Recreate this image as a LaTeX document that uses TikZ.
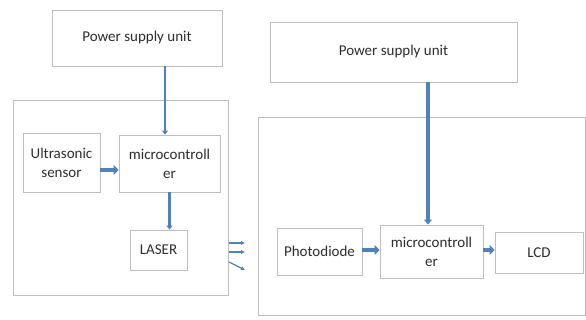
\documentclass[tikz,border=0pt]{standalone}
\usepackage{fontspec}
\setmainfont{Carlito}
\usetikzlibrary{arrows.meta}
\definecolor{edgegray}{RGB}{190,190,190}
\definecolor{flowblue}{RGB}{79,129,189}
\definecolor{inkgray}{RGB}{45,45,45}
\begin{document}
\begin{tikzpicture}[x=1pt,y=-1pt,
  box/.style={draw=edgegray,line width=0.9pt,fill=white,inner sep=0pt,align=center,
    text=inkgray,font=\fontsize{15}{19}\selectfont},
  frame/.style={draw=edgegray,line width=0.9pt,inner sep=0pt},
  feed/.style={draw=flowblue,line width=2.4pt,-{Triangle[length=4pt,width=6pt]}},
  feedthick/.style={draw=flowblue,line width=4pt,-{Triangle[length=5pt,width=8pt]}},
  blockarrow/.style={draw=flowblue,line width=4.5pt,-{Triangle[length=5pt,width=10pt]}},
  beam/.style={draw=flowblue,line width=1.2pt,-{Latex[length=4pt,width=4.5pt]}}]
\useasboundingbox (0,0) rectangle (586,320);

% transmitter side
\node[frame,minimum width=215,minimum height=195] (outerL) at (120.5,197.5) {};
\node[box,minimum width=170,minimum height=56] (psuL) at (137,38) {Power supply unit};
\node[box,minimum width=77,minimum height=59] (ultra) at (61.5,162.5) {Ultrasonic\\sensor};
\node[box,minimum width=101,minimum height=57] (microL) at (169.5,163.5) {microcontroll\\er};
\node[box,minimum width=57,minimum height=40] (laser) at (158.5,250) {LASER};

\draw[feed] ([xshift=-4.5]microL.north |- psuL.south) -- ([xshift=-4.5]microL.north);
\draw[blockarrow] (ultra.east |- 0,170) -- (microL.west |- 0,170);
\draw[feed] (microL.south) -- (microL.south |- laser.north);

% laser beam
\coordinate (b1s) at (229,243);
\coordinate (b1e) at (245,243);
\coordinate (b2s) at (229,252);
\coordinate (b2e) at (245,252);
\coordinate (b3s) at (229,262);
\coordinate (b3e) at (245,270);
\draw[beam] (b1s) -- (b1e);
\draw[beam] (b2s) -- (b2e);
\draw[beam] (b3s) -- (b3e);

% receiver side
\node[frame,minimum width=327,minimum height=198] (outerR) at (421.5,216) {};
\node[box,minimum width=247,minimum height=60] (psuR) at (393.5,52) {Power supply unit};
\node[box,minimum width=85,minimum height=47] (photo) at (319.5,251.5) {Photodiode};
\node[box,minimum width=103,minimum height=53] (microR) at (431.5,251.5) {microcontroll\\er};
\node[box,minimum width=88,minimum height=41] (lcd) at (539,252.5) {LCD};

\draw[feedthick] ([xshift=-3.5]microR.north |- psuR.south) -- ([xshift=-3.5]microR.north);
\draw[blockarrow] (photo.east |- 0,250) -- (microR.west |- 0,250);
\draw[blockarrow] (microR.east |- 0,250) -- (lcd.west |- 0,250);
\end{tikzpicture}
\end{document}
